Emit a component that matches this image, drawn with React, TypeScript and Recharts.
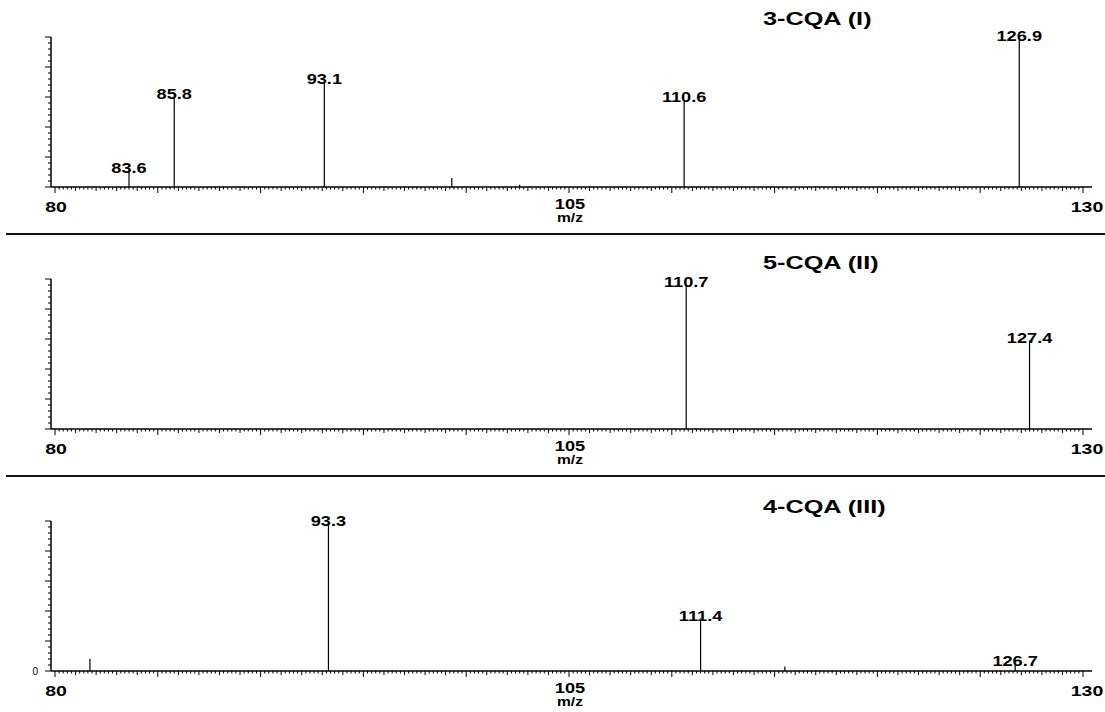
import { ScatterChart, Scatter, XAxis, YAxis, ErrorBar } from 'recharts'

// m/z and relative abundance of each product ion
const titles = ['3-CQA (I)', '5-CQA (II)', '4-CQA (III)']

const cqa3Mz = [83.6, 85.8, 93.1, 99.3, 102.6, 110.6, 126.9]
const cqa3Abund = [11, 60, 70, 6, 1.5, 58, 99]
const cqa3Labeled = [true, true, true, false, false, true, true]

const cqa5Mz = [110.7, 127.4]
const cqa5Abund = [96, 59]
const cqa5Labeled = [true, true]

const cqa4Mz = [81.7, 93.3, 111.4, 115.5, 126.7]
const cqa4Abund = [8, 98, 35, 3, 5]
const cqa4Labeled = [false, true, true, false, true]

const mzLabels = [80, 105, 130]
const axisTitle = 'm/z'

const FONT = '"Liberation Sans", Arial, Helvetica, sans-serif'
const W = 1105
const H = 233
const PANEL_STEP = 242

// axis ticks: 0.2 m/z steps on x, 4 % steps on y
const mzTicks = Array.from({ length: 251 }, (_, i) => 80 + i * 0.2)
const abTicks = Array.from({ length: 26 }, (_, i) => i * 4)

type Peak = { mz: number; ab: number; err: [number, number]; label: string }

const toPeaks = (mz: number[], ab: number[], labeled: boolean[]): Peak[] =>
  mz.map((m, i) => ({ mz: m, ab: ab[i], err: [ab[i], 0], label: labeled[i] ? m.toFixed(1) : '' }))

const panels = [
  toPeaks(cqa3Mz, cqa3Abund, cqa3Labeled),
  toPeaks(cqa5Mz, cqa5Abund, cqa5Labeled),
  toPeaks(cqa4Mz, cqa4Abund, cqa4Labeled),
]

const MzTick = (props: any) => {
  const { x, y, payload } = props
  const step = Math.round((payload.value - 80) * 5)
  const len = step % 25 === 0 ? 6 : step % 5 === 0 ? 4 : 2.5
  const lab = mzLabels.find(v => Math.abs(v - payload.value) < 1e-6)
  return (
    <g>
      <line x1={x} x2={x} y1={y} y2={y + len} stroke="#000" strokeWidth={1} />
      {lab !== undefined && (
        <text
          transform={`translate(${lab === 130 ? x + 4 : x + 1},${lab === 105 ? y + 22 : y + 25}) scale(1.3,1)`}
          textAnchor="middle"
          fontFamily={FONT}
          fontWeight="bold"
          fontSize={lab === 105 ? 14 : 15}
          fill="#000"
        >
          {lab}
        </text>
      )}
      {lab === 105 && (
        <text
          transform={`translate(${x + 1},${y + 35}) scale(1.3,1)`}
          textAnchor="middle"
          fontFamily={FONT}
          fontWeight="bold"
          fontSize={12}
          fill="#000"
        >
          {axisTitle}
        </text>
      )}
    </g>
  )
}

const AbTick = (props: any) => {
  const { x, y, payload, showZero } = props
  const major = payload.value % 20 === 0
  return (
    <g>
      <line x1={x - (major ? 6 : 3)} x2={x} y1={y} y2={y} stroke="#000" strokeWidth={1} />
      {showZero && payload.value === 0 && (
        <text x={x - 13} y={y + 3.5} textAnchor="end" fontFamily={FONT} fontSize={10} fill="#000">
          0
        </text>
      )}
    </g>
  )
}

const PeakLabel = (props: any) => {
  const { cx, cy, payload } = props
  if (!payload?.label) return <g />
  return (
    <text
      transform={`translate(${cx},${cy + 2}) scale(1.3,1)`}
      textAnchor="middle"
      fontFamily={FONT}
      fontWeight="bold"
      fontSize={14}
      fill="#000"
    >
      {payload.label}
    </text>
  )
}

function Panel({ data, showZero }: { data: Peak[]; showZero: boolean }) {
  return (
    <ScatterChart width={W} height={H} margin={{ top: 37, right: 13, bottom: 0, left: 0 }}>
      <XAxis
        type="number"
        dataKey="mz"
        domain={[80, 130]}
        ticks={mzTicks}
        interval={0}
        padding={{ left: 4, right: 9 }}
        height={46}
        tickSize={0}
        tickMargin={0}
        tickLine={false}
        axisLine={{ stroke: '#000', strokeWidth: 1.5 }}
        tick={<MzTick />}
      />
      <YAxis
        type="number"
        dataKey="ab"
        domain={[0, 100]}
        ticks={abTicks}
        interval={0}
        width={51}
        tickSize={0}
        tickMargin={0}
        tickLine={false}
        axisLine={{ stroke: '#000', strokeWidth: 1.5 }}
        tick={<AbTick showZero={showZero} />}
      />
      <Scatter data={data} isAnimationActive={false} shape={(p: any) => <PeakLabel {...p} />}>
        <ErrorBar dataKey="err" direction="y" width={0} stroke="#000" strokeWidth={1.2} isAnimationActive={false} />
      </Scatter>
    </ScatterChart>
  )
}

export default function App() {
  return (
    <div style={{ position: 'absolute', left: 0, top: 0, width: W, height: 712, background: '#fff', overflow: 'hidden' }}>
      {panels.map((data, i) => (
        <div key={i} style={{ position: 'absolute', left: 0, top: i * PANEL_STEP, width: W, height: H }}>
          <Panel data={data} showZero={i === 2} />
          <div
            style={{
              position: 'absolute',
              left: 763,
              top: 8 + i * 2,
              fontFamily: FONT,
              fontWeight: 'bold',
              fontSize: 19,
              lineHeight: '22px',
              whiteSpace: 'nowrap',
              transform: 'scaleX(1.33)',
              transformOrigin: 'left center',
            }}
          >
            {titles[i]}
          </div>
          {i < 2 && (
            <div style={{ position: 'absolute', left: 6, top: H, width: W - 6, height: 2, background: '#111' }} />
          )}
        </div>
      ))}
    </div>
  )
}
